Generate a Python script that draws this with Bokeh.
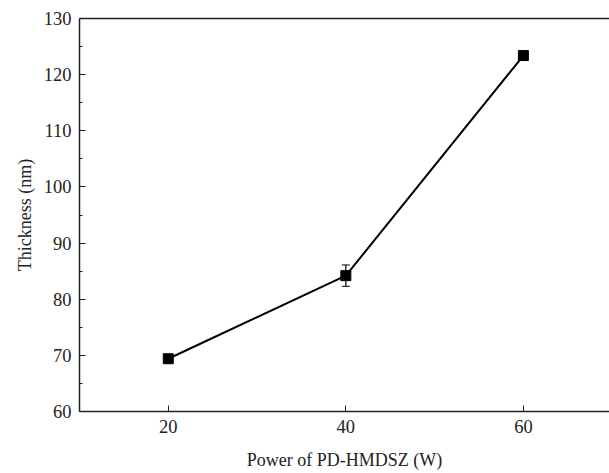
from bokeh.plotting import figure
from bokeh.models import Range1d, LinearAxis, FixedTicker, ColumnDataSource, Whisker
from bokeh.embed import file_html
from bokeh.resources import INLINE

power = [20, 40, 60]
thickness = [69.4, 84.2, 123.4]
err = [0.0, 1.9, 0.0]

x_ticks = [20, 40, 60]
y_ticks = [60, 70, 80, 90, 100, 110, 120, 130]
y_minor = [65, 75, 85, 95, 105, 115, 125]

FONT = "Liberation Serif"

p = figure(width=609, height=472, output_backend="svg", toolbar_location=None,
           x_range=Range1d(10, 69.7), y_range=Range1d(60, 130),
           min_border_left=79, min_border_right=0, min_border_top=18, min_border_bottom=10)
p.outline_line_color = None
p.grid.visible = False
p.background_fill_color = "white"
p.border_fill_color = "white"

for ax in (p.xaxis[0], p.yaxis[0]):
    ax.axis_line_color = "#222222"
    ax.axis_line_width = 1.5
    ax.major_tick_in = 6
    ax.major_tick_out = 0
    ax.minor_tick_in = 3
    ax.minor_tick_out = 0
    ax.major_tick_line_color = "#222222"
    ax.minor_tick_line_color = "#222222"
    ax.major_label_text_font = FONT
    ax.major_label_text_font_size = "18.5px"
    ax.major_label_text_color = "#222222"
    ax.axis_label_text_font = FONT
    ax.axis_label_text_font_size = "18px"
    ax.axis_label_text_font_style = "normal"
    ax.axis_label_text_color = "#222222"
    ax.major_label_standoff = 8

p.xaxis[0].ticker = FixedTicker(ticks=x_ticks, minor_ticks=[])
p.yaxis[0].ticker = FixedTicker(ticks=y_ticks, minor_ticks=y_minor)
p.xaxis[0].axis_label = "Power of PD-HMDSZ (W)"
p.yaxis[0].axis_label = "Thickness (nm)"
p.xaxis[0].axis_label_standoff = 14
p.yaxis[0].axis_label_standoff = 6

top = LinearAxis(ticker=FixedTicker(ticks=[]), major_label_text_font_size="0px",
                 axis_line_color="#222222", axis_line_width=1.5,
                 major_tick_line_color=None, minor_tick_line_color=None)
p.add_layout(top, "above")

lower = [t - e for t, e in zip(thickness, err)]
upper = [t + e for t, e in zip(thickness, err)]
src = ColumnDataSource(dict(x=power, y=thickness, lower=lower, upper=upper))

p.line("x", "y", source=src, line_color="black", line_width=2)
w = Whisker(base="x", lower="lower", upper="upper", source=src, line_color="black", line_width=1.2)
w.upper_head.size = 8
w.lower_head.size = 8
w.upper_head.line_color = "black"
w.lower_head.line_color = "black"
p.add_layout(w)
p.scatter("x", "y", source=src, marker="square", size=10, fill_color="black", line_color="black")

open("out.html", "w").write(file_html(p, INLINE))
